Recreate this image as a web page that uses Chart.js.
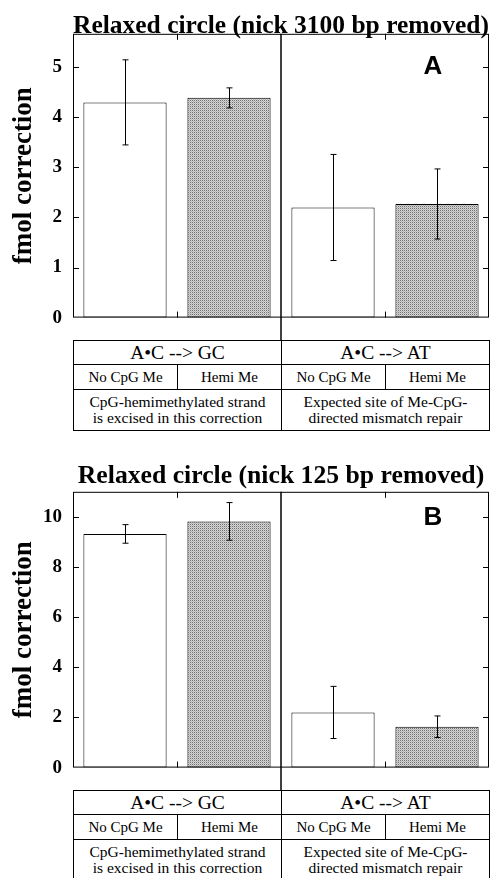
<!DOCTYPE html>
<html>
<head>
<meta charset="utf-8">
<script src="https://cdn.jsdelivr.net/npm/chart.js@4.4.1/dist/chart.umd.min.js"></script>
<style>
  body { margin: 0; background: #fff; }
  #page { position: relative; width: 492px; height: 878px; overflow: hidden; background: #fff; }
  #page canvas { position: absolute; left: 0; }
  table.key { position: absolute; left: 73px; width: 417px; border-collapse: collapse; table-layout: fixed;
              font-family: "Liberation Serif", "Times New Roman", serif; color: #000; }
  table.key td { border: 1px solid #000; padding: 0; text-align: center; vertical-align: middle; white-space: nowrap; }
  table.key tr.r1 td { height: 23px; font-size: 19.5px; }
  table.key tr.r2 td { height: 24px; font-size: 15px; }
  table.key tr.r3 td { height: 40px; font-size: 15.5px; line-height: 16px; }
</style>
</head>
<body>
<div id="page">
  <canvas id="chartA" width="492" height="340" style="top:0"></canvas>
  <table class="key" id="keyA" style="top:340px"></table>
  <canvas id="chartB" width="492" height="340" style="top:450px"></canvas>
  <table class="key" id="keyB" style="top:790px"></table>
</div>
<script>
// categories
const mismatches = ['A•C --> GC', 'A•C --> AT'];
const conditions = ['No CpG Me', 'Hemi Me'];
const notes = [
  ['CpG-hemimethylated strand', 'is excised in this correction'],
  ['Expected site of Me-CpG-', 'directed mismatch repair']
];
const categories = ['GC No CpG Me', 'GC Hemi Me', 'AT No CpG Me', 'AT Hemi Me'];

// panel A: nick 3100 bp removed
const valuesA = [4.30, 4.39, 2.20, 2.27];
const errorsA = [0.85, 0.20, 1.06, 0.70];
const ticksA = [0, 1, 2, 3, 4, 5];

// panel B: nick 125 bp removed
const valuesB = [9.32, 9.82, 2.20, 1.63];
const errorsB = [0.37, 0.75, 1.04, 0.43];
const ticksB = [0, 2, 4, 6, 8, 10];

const serif = '"Liberation Serif", "Times New Roman", serif';

function buildKey(id) {
  let html = '<colgroup><col><col><col><col></colgroup>';
  html += '<tr class="r1">' + mismatches.map(m => '<td colspan="2">' + m + '</td>').join('') + '</tr>';
  html += '<tr class="r2">' + mismatches.map(() => conditions.map(c => '<td>' + c + '</td>').join('')).join('') + '</tr>';
  html += '<tr class="r3">' + notes.map(n => '<td colspan="2">' + n.join('<br>') + '</td>').join('') + '</tr>';
  document.getElementById(id).innerHTML = html;
}
buildKey('keyA');
buildKey('keyB');

function stipple() {
  const c = document.createElement('canvas');
  c.width = 2; c.height = 2;
  const g = c.getContext('2d');
  g.fillStyle = '#d6d6d6'; g.fillRect(0, 0, 2, 2);
  g.fillStyle = '#707070'; g.fillRect(0, 0, 1, 1);
  g.fillStyle = '#b4b4b4'; g.fillRect(1, 1, 1, 1);
  return g.createPattern(c, 'repeat');
}
const dots = stipple();

function seg(ctx, x1, y1, x2, y2) {
  ctx.beginPath(); ctx.moveTo(x1, y1); ctx.lineTo(x2, y2); ctx.stroke();
}

// frame, inward ticks, divider, error bars and panel letter
const panelPlugin = {
  id: 'panel',
  afterDatasetsDraw(chart, args, opts) {
    const { ctx, chartArea: a, scales: { x, y } } = chart;
    const meta = chart.getDatasetMeta(0);
    const vals = chart.data.datasets[0].data;
    ctx.save();
    ctx.strokeStyle = '#000';
    ctx.lineWidth = 1;

    opts.errors.forEach((e, i) => {
      const px = Math.round(meta.data[i].x) + 0.5;
      const hi = y.getPixelForValue(vals[i] + e);
      const lo = y.getPixelForValue(vals[i] - e);
      seg(ctx, px, hi, px, lo);
      seg(ctx, px - 3, hi, px + 3, hi);
      seg(ctx, px - 3, lo, px + 3, lo);
    });

    ctx.strokeRect(a.left + 0.5, a.top + 0.5, a.width - 1, a.height - 1);

    y.ticks.forEach(t => {
      if (t.value === 0) return;
      const py = Math.round(y.getPixelForValue(t.value)) + 0.5;
      seg(ctx, a.left, py, a.left + 6, py);
      seg(ctx, a.right - 6, py, a.right, py);
    });

    [0, 2].forEach(i => {
      const bx = Math.round((x.getPixelForValue(i) + x.getPixelForValue(i + 1)) / 2) + 0.5;
      seg(ctx, bx, a.top, bx, a.top + 6);
      seg(ctx, bx, a.bottom - 6, bx, a.bottom);
    });

    const mid = Math.round((x.getPixelForValue(1) + x.getPixelForValue(2)) / 2);
    ctx.lineWidth = 1.5;
    seg(ctx, mid, a.top, mid, chart.height);

    ctx.fillStyle = '#000';
    ctx.font = 'bold 26px "Liberation Sans", Arial, sans-serif';
    ctx.textAlign = 'center';
    ctx.textBaseline = 'middle';
    ctx.fillText(opts.letter, a.right - opts.letterDx, a.top + opts.letterDy);
    ctx.restore();
  }
};

function makeChart(id, values, errors, tickValues, yMax, title, titlePad, bottomPad, letter, letterDy) {
  return new Chart(document.getElementById(id), {
    type: 'bar',
    data: {
      labels: categories,
      datasets: [{
        data: values,
        backgroundColor: ['#ffffff', dots, '#ffffff', dots],
        borderColor: '#000',
        borderWidth: 1,
        borderSkipped: false,
        barPercentage: 0.8,
        categoryPercentage: 1.0
      }]
    },
    options: {
      responsive: false,
      animation: false,
      devicePixelRatio: 1,
      layout: { padding: { left: 0, right: 3, top: 0, bottom: bottomPad } },
      plugins: {
        legend: { display: false },
        tooltip: { enabled: false },
        title: {
          display: true,
          text: title,
          fullSize: false,
          color: '#000',
          font: { family: serif, weight: 'bold', size: 25.7, lineHeight: 0.615 },
          padding: titlePad
        },
        panel: { errors: errors, letter: letter, letterDx: 56, letterDy: letterDy }
      },
      scales: {
        x: {
          type: 'category',
          offset: true,
          grid: { display: false },
          border: { display: false },
          ticks: { display: false },
          afterFit: s => { s.height = 0; }
        },
        y: {
          min: 0,
          max: yMax,
          grid: { display: false, drawTicks: false },
          border: { display: false },
          afterBuildTicks: s => { s.ticks = tickValues.map(v => ({ value: v })); },
          afterFit: s => { s.width = 73; },
          ticks: {
            color: '#000',
            padding: 11,
            font: { family: serif, weight: 'bold', size: 19 }
          },
          title: {
            display: true,
            text: 'fmol correction',
            color: '#000',
            padding: { top: 11, bottom: 0 },
            font: { family: serif, weight: 'bold', size: 27, lineHeight: 1 }
          }
        }
      }
    },
    plugins: [panelPlugin]
  });
}

makeChart('chartA', valuesA, errorsA, ticksA, 5.67, 'Relaxed circle (nick 3100 bp removed)',
  { top: 18, bottom: 0 }, 15, 'A', 33);
makeChart('chartB', valuesB, errorsB, ticksB, 11, 'Relaxed circle (nick 125 bp removed)',
  { top: 18, bottom: 8 }, 14, 'B', 26);
</script>
</body>
</html>
